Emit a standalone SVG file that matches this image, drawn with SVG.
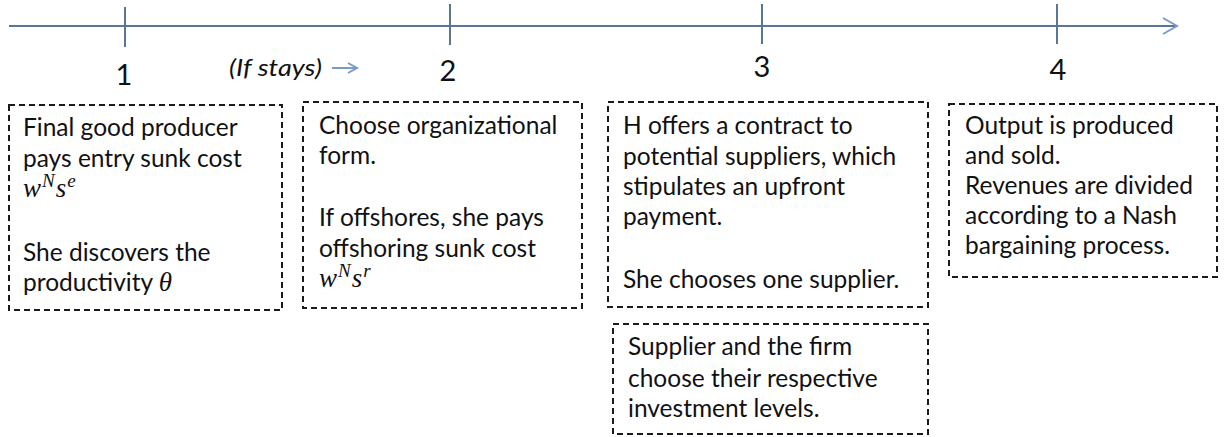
<svg xmlns="http://www.w3.org/2000/svg" width="1229" height="437" viewBox="0 0 1229 437">
<style>
.box{fill:none;stroke:#1a1a1a;stroke-width:2;stroke-dasharray:6 4}
.t{font-family:Lato,"Liberation Sans",sans-serif;font-size:24.5px;fill:#111}
.num{font-family:Lato,"Liberation Sans",sans-serif;font-size:29px;fill:#111;text-anchor:middle}
.it{font-family:Lato,"Liberation Sans",sans-serif;font-size:24px;font-style:italic;fill:#111}
.m{font-family:"Liberation Serif",serif;font-style:italic;font-size:27px;fill:#111}
.sup{font-size:19px}
.axis{stroke:#5b7595;stroke-width:2;fill:none}
.tick{stroke:#5b7595;stroke-width:2}
.chev{stroke:#7a9cc6;stroke-width:2;fill:none}
</style>
<g id="connectors">
<line class="axis" x1="9" y1="26" x2="1176" y2="26"/>
<polyline class="chev" points="1163,18 1177,26 1163,34"/>
<line class="tick" x1="125" y1="7" x2="125" y2="47"/>
<line class="tick" x1="450" y1="4" x2="450" y2="45"/>
<line class="tick" x1="762" y1="4" x2="762" y2="44"/>
<line class="tick" x1="1057" y1="4" x2="1057" y2="44"/>
<line class="chev" x1="332" y1="68" x2="356" y2="68"/>
<polyline class="chev" points="348,63 357,68 348,73"/>
</g>
<g id="labels">
<text class="num" x="124" y="85">1</text>
<text class="num" x="448" y="81">2</text>
<text class="num" x="762" y="77">3</text>
<text class="num" x="1058" y="80">4</text>
<text class="it" x="229" y="76" textLength="93" lengthAdjust="spacingAndGlyphs">(If stays)</text>
</g>
<g id="node1">
<rect class="box" x="9" y="105" width="273" height="205"/>
<text class="t" x="23" y="136">Final good producer</text>
<text class="t" x="23" y="167">pays entry sunk cost</text>
<text class="m" x="23" y="197">w<tspan class="sup" dy="-10" dx="1">N</tspan><tspan dy="10" dx="1">s</tspan><tspan class="sup" dy="-10" dx="1">e</tspan></text>
<text class="t" x="23" y="261">She discovers the</text>
<text class="t" x="23" y="291">productivity <tspan class="m">θ</tspan></text>
</g>
<g id="node2">
<rect class="box" x="303" y="102" width="279" height="206"/>
<text class="t" x="319" y="134">Choose organizational</text>
<text class="t" x="319" y="164">form.</text>
<text class="t" x="319" y="226">If offshores, she pays</text>
<text class="t" x="319" y="257">offshoring sunk cost</text>
<text class="m" x="319" y="287">w<tspan class="sup" dy="-10" dx="1">N</tspan><tspan dy="10" dx="1">s</tspan><tspan class="sup" dy="-10" dx="1">r</tspan></text>
</g>
<g id="node3">
<rect class="box" x="608" y="102" width="320" height="205"/>
<text class="t" x="623" y="134">H offers a contract to</text>
<text class="t" x="623" y="165">potential suppliers, which</text>
<text class="t" x="623" y="195">stipulates an upfront</text>
<text class="t" x="623" y="225">payment.</text>
<text class="t" x="623" y="288">She chooses one supplier.</text>
</g>
<g id="node4">
<rect class="box" x="613" y="324" width="315" height="110"/>
<text class="t" x="628" y="355">Supplier and the firm</text>
<text class="t" x="628" y="387">choose their respective</text>
<text class="t" x="628" y="417">investment levels.</text>
</g>
<g id="node5">
<rect class="box" x="949" y="104" width="268" height="173"/>
<text class="t" x="965" y="134">Output is produced</text>
<text class="t" x="965" y="164">and sold.</text>
<text class="t" x="965" y="194">Revenues are divided</text>
<text class="t" x="965" y="224">according to a Nash</text>
<text class="t" x="965" y="254">bargaining process.</text>
</g>
</svg>
